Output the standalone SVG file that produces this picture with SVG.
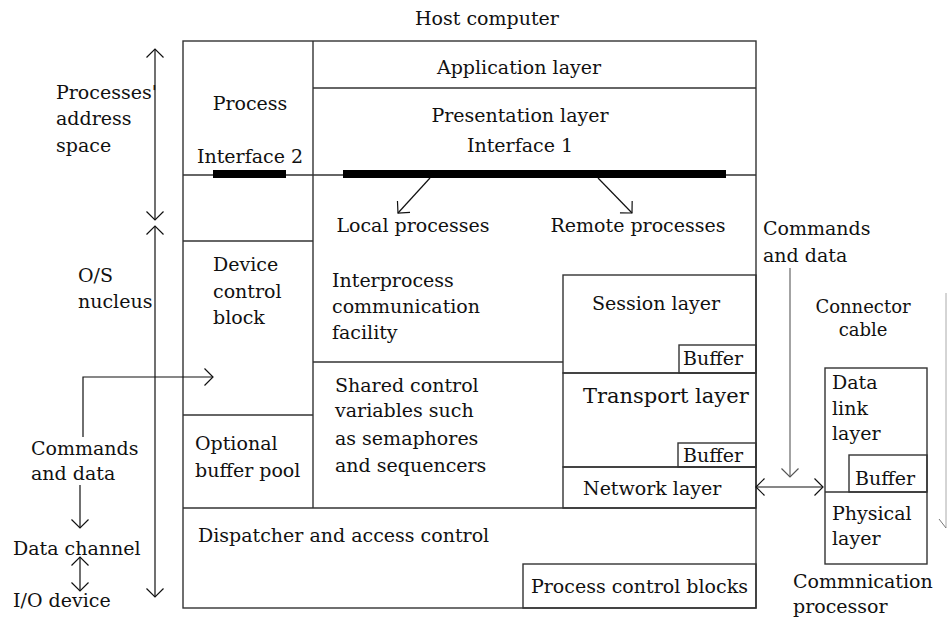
<svg xmlns="http://www.w3.org/2000/svg" width="947" height="625" viewBox="0 0 947 625">
<style>
text{font-family:"DejaVu Serif","Liberation Serif",serif;font-size:19px;fill:#111}
.box{fill:none;stroke:#333;stroke-width:1.4}
.ln{fill:none;stroke:#333;stroke-width:1.4}
.bar{fill:#000}
.ar{fill:none;stroke:#111;stroke-width:1.2}
.c{text-anchor:middle}
</style>
<defs>
<marker id="ah" viewBox="-10 -10 12 20" refX="0" refY="0" markerWidth="12" markerHeight="20" markerUnits="userSpaceOnUse" orient="auto-start-reverse" overflow="visible">
<path d="M-8.5,-8.5 L0,0 L-8.5,8.5" fill="none" stroke="#111" stroke-width="1.2"/>
</marker>
<marker id="ahg" viewBox="-10 -10 12 20" refX="0" refY="0" markerWidth="12" markerHeight="20" markerUnits="userSpaceOnUse" orient="auto-start-reverse" overflow="visible">
<path d="M-8.5,-8.5 L0,0 L-8.5,8.5" fill="none" stroke="#555" stroke-width="1.2"/>
</marker>
</defs>

<g id="host">
<text x="487" y="25" class="c">Host computer</text>
<rect class="box" x="183" y="41" width="573" height="567"/>
<line class="ln" x1="313" y1="41" x2="313" y2="508"/>
<line class="ln" x1="183" y1="175" x2="756" y2="175"/>
<line class="ln" x1="183" y1="508" x2="756" y2="508"/>
</g>

<g id="application-layer">
<line class="ln" x1="313" y1="88" x2="756" y2="88"/>
<text x="519" y="74" class="c">Application layer</text>
</g>

<g id="presentation-layer">
<text x="520" y="122" class="c">Presentation layer</text>
<text x="520" y="152" class="c">Interface 1</text>
<rect class="bar" x="343" y="170" width="383" height="8"/>
</g>

<g id="process">
<text x="250" y="110" class="c">Process</text>
<text x="250" y="163" class="c">Interface 2</text>
<rect class="bar" x="213" y="170" width="73" height="8"/>
</g>

<g id="device-control-block">
<line class="ln" x1="183" y1="241" x2="313" y2="241"/>
<text x="213" y="271">Device</text>
<text x="213" y="298">control</text>
<text x="213" y="324">block</text>
</g>

<g id="optional-buffer-pool">
<line class="ln" x1="183" y1="415" x2="313" y2="415"/>
<text x="195" y="450">Optional</text>
<text x="195" y="477">buffer pool</text>
</g>

<g id="ipc">
<text x="413" y="232" class="c">Local processes</text>
<text x="638" y="232" class="c">Remote processes</text>
<text x="332" y="287">Interprocess</text>
<text x="332" y="313">communication</text>
<text x="332" y="339">facility</text>
</g>

<g id="shared-control">
<line class="ln" x1="313" y1="362" x2="563" y2="362"/>
<text x="335" y="392">Shared control</text>
<text x="335" y="417">variables such</text>
<text x="335" y="445">as semaphores</text>
<text x="335" y="472">and sequencers</text>
</g>

<g id="session-layer">
<rect class="box" x="563" y="275" width="193" height="98"/>
<text x="592" y="310">Session layer</text>
<rect class="box" x="679" y="345" width="77" height="28"/>
<text x="683" y="365">Buffer</text>
</g>

<g id="transport-layer">
<rect class="box" x="563" y="373" width="193" height="94"/>
<text x="583" y="403" style="font-size:21px">Transport layer</text>
<rect class="box" x="678" y="443" width="78" height="24"/>
<text x="683" y="462">Buffer</text>
</g>

<g id="network-layer">
<rect class="box" x="563" y="467" width="193" height="41"/>
<text x="583" y="495">Network layer</text>
</g>

<g id="dispatcher">
<text x="198" y="542">Dispatcher and access control</text>
</g>

<g id="process-control-blocks">
<rect class="box" x="523" y="564" width="233" height="44"/>
<text x="531" y="593">Process control blocks</text>
</g>

<g id="communication-processor">
<text x="863" y="313" class="c" style="font-size:18px">Connector</text>
<text x="863" y="336" class="c" style="font-size:18px">cable</text>
<rect class="box" x="825" y="368" width="102" height="196"/>
<line class="ln" x1="825" y1="492" x2="927" y2="492"/>
<text x="832" y="389">Data</text>
<text x="832" y="415">link</text>
<text x="832" y="440">layer</text>
<rect class="box" x="849" y="455" width="78" height="37"/>
<text x="855" y="485">Buffer</text>
<text x="832" y="520">Physical</text>
<text x="832" y="545">layer</text>
<text x="793" y="588">Commnication</text>
<text x="793" y="613">processor</text>
</g>

<g id="left-labels">
<text x="56" y="99">Processes'</text>
<text x="56" y="125">address</text>
<text x="56" y="152">space</text>
<text x="78" y="282">O/S</text>
<text x="78" y="308">nucleus</text>
<text x="31" y="455">Commands</text>
<text x="31" y="480">and data</text>
<text x="13" y="555">Data channel</text>
<text x="13" y="607">I/O device</text>
</g>

<g id="right-labels">
<text x="763" y="235">Commands</text>
<text x="763" y="262">and data</text>
</g>

<g id="connectors">
<line class="ar" x1="430" y1="178" x2="398" y2="213" marker-end="url(#ah)"/>
<line class="ar" x1="598" y1="178" x2="632" y2="213" marker-end="url(#ah)"/>
<line class="ar" x1="155" y1="49" x2="155" y2="220" marker-start="url(#ah)" marker-end="url(#ah)"/>
<line class="ar" x1="155" y1="226" x2="155" y2="597" marker-start="url(#ah)" marker-end="url(#ah)"/>
<polyline class="ar" points="83,437 83,377 213,377" marker-end="url(#ah)"/>
<line class="ar" x1="80" y1="485" x2="80" y2="528" marker-end="url(#ah)"/>
<line class="ar" x1="80" y1="557" x2="80" y2="591" marker-start="url(#ah)" marker-end="url(#ah)"/>
<line x1="790" y1="268" x2="790" y2="477" stroke="#666" stroke-width="1.2" marker-end="url(#ahg)"/>
<line class="ar" x1="756" y1="487" x2="823" y2="487" marker-start="url(#ah)" marker-end="url(#ah)"/>
<line x1="946" y1="293" x2="946" y2="528" stroke="#aaa" stroke-width="1"/>
<line x1="939" y1="519" x2="946" y2="528" stroke="#777" stroke-width="1"/>
</g>
</svg>
